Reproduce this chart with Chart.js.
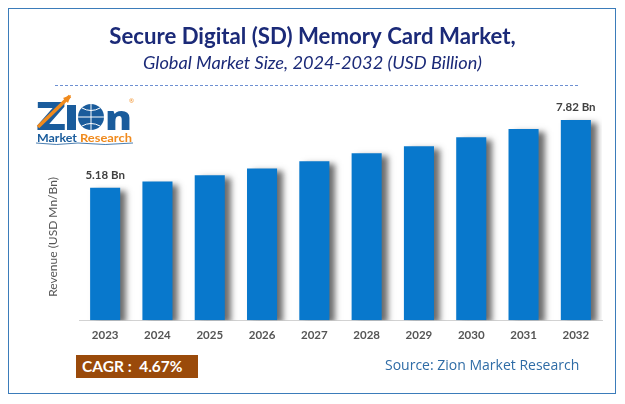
<!DOCTYPE html>
<html><head><meta charset="utf-8">
<script src="https://cdn.jsdelivr.net/npm/chart.js@4"></script>
<style>
html,body{margin:0;padding:0;background:#fff;width:625px;height:404px;overflow:hidden}
#wrap{position:relative;width:625px;height:404px}
canvas{position:absolute;left:0;top:0}
#frame{position:absolute;left:8px;top:8px;width:606px;height:384px;border:1.5px solid #3b7cba}
#rule{position:absolute;left:55px;top:85px;width:523px;border-top:1px dashed #6d90d2}
#cagr{position:absolute;left:76px;top:355px;width:116px;height:23px;padding-left:6px;background:#9a4a0a;color:#fff;font:bold 15.5px/23px Lato,sans-serif;white-space:pre}
#src{position:absolute;left:385px;top:355px;color:#2f6ca6;font:14px/20px "Open Sans",sans-serif;white-space:nowrap}
#logo{position:absolute;left:30px;top:92px}
</style></head><body>
<div id="wrap">
<canvas id="c" width="625" height="404"></canvas>
<div id="frame"></div><div id="rule"></div>
<svg id="logo" width="110" height="56" viewBox="0 0 110 56">
<text x="6" y="38" font-family="'Open Sans'" font-weight="800" font-size="38" fill="#1a5c9c" textLength="30" lengthAdjust="spacingAndGlyphs">Z</text>
<path d="M8 35 L40 4" stroke="#f08a1d" stroke-width="3.5" fill="none"/>
<path d="M41 3 L33 6 L38 11Z" fill="#f08a1d"/>
<rect x="37" y="13" width="9" height="25" fill="#1a5c9c"/>
<circle cx="61" cy="25" r="13" fill="#1a5c9c"/>
<path d="M48 25H74M61 12V38M52 16Q61 21 70 16M52 34Q61 29 70 34" stroke="#fff" stroke-width="1" fill="none"/>
<text x="75" y="38" font-family="'Open Sans'" font-weight="800" font-size="34" fill="#1a5c9c" textLength="27" lengthAdjust="spacingAndGlyphs">n</text>
<text x="99" y="11" font-family="'Open Sans'" font-size="6" fill="#f08a1d">®</text>
<text x="7" y="50" font-family="Lato" font-weight="700" font-size="12" fill="#1a5c9c" textLength="40" lengthAdjust="spacingAndGlyphs">Market</text>
<text x="50" y="50" font-family="Lato" font-weight="700" font-size="12" fill="#f08a1d" textLength="52" lengthAdjust="spacingAndGlyphs">Research</text>
<path d="M6 51Q26 54 48 51Q75 54 103 51" stroke="#1a5c9c" stroke-width="0.8" fill="none"/>
</svg>
<div id="cagr">CAGR :  4.67%</div>
<div id="src">Source: Zion Market Research</div>
</div>
<script>
const years = ["2023","2024","2025","2026","2027","2028","2029","2030","2031","2032"];
const revenue = [5.18,5.42,5.66,5.93,6.21,6.52,6.80,7.15,7.47,7.82];
const valueLabels = ["5.18 Bn",null,null,null,null,null,null,null,null,"7.82 Bn"];
const chartTitle = "Secure Digital (SD) Memory Card Market,";
const chartSubtitle = "Global Market Size, 2024-2032 (USD Billion)";
const axisTitle = "Revenue (USD Mn/Bn)";

const barShadow = {
  id:"barShadow",
  beforeDatasetDraw(chart){const x=chart.ctx;x.save();x.shadowColor="rgba(60,60,60,0.75)";x.shadowBlur=6;x.shadowOffsetX=6;x.shadowOffsetY=3;},
  afterDatasetDraw(chart){chart.ctx.restore();}
};
const barValueLabels = {
  id:"barValueLabels",
  afterDatasetsDraw(chart){
    const x=chart.ctx;x.save();x.font="bold 11.5px Lato, sans-serif";x.fillStyle="#404040";x.textAlign="center";x.textBaseline="alphabetic";
    chart.getDatasetMeta(0).data.forEach((b,i)=>{if(valueLabels[i])x.fillText(valueLabels[i],b.x,b.y-9);});
    x.restore();
  }
};
const sideAxisTitle = {
  id:"sideAxisTitle",
  afterDraw(chart){
    const x=chart.ctx;x.save();x.translate(53,237);x.rotate(-Math.PI/2);x.font="12px Lato, sans-serif";x.fillStyle="#555555";x.textAlign="center";x.textBaseline="middle";
    x.fillText(axisTitle,0,0);x.restore();
  }
};
new Chart(document.getElementById("c"),{
  type:"bar",
  data:{labels:years,datasets:[{data:revenue,backgroundColor:"#0878cc",barPercentage:0.575,categoryPercentage:1}]},
  plugins:[barShadow,barValueLabels,sideAxisTitle],
  options:{
    responsive:false,animation:false,devicePixelRatio:1,
    layout:{padding:{left:0,right:0,top:24,bottom:54}},
    plugins:{
      legend:{display:false},tooltip:{enabled:false},
      title:{display:true,text:chartTitle,color:"#1b2a78",font:{family:"Lato",weight:"bold",size:22.2},padding:{top:0,bottom:2}},
      subtitle:{display:true,text:chartSubtitle,color:"#1b2a78",font:{family:"Lato",style:"italic",size:18.2},padding:{top:0,bottom:41}}
    },
    scales:{
      x:{grid:{display:false,drawTicks:false},border:{color:"#d2d2d2",width:1},
         ticks:{color:"#555555",font:{family:"Lato",weight:"bold",size:11.5},padding:8,maxRotation:0}},
      y:{min:0,max:8,
         afterFit(s){s.width=79;},
         grid:{display:false,drawTicks:false},border:{display:false},
         ticks:{display:false}},
      yRight:{position:"right",min:0,max:8,
         afterFit(s){s.width=23;},
         grid:{display:false,drawTicks:false},border:{display:false},
         ticks:{display:false}}
    }
  }
});
</script>
</body></html>
